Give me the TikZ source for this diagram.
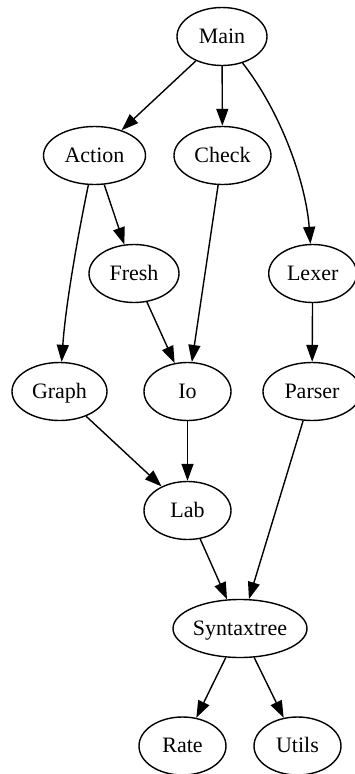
\documentclass[tikz,border=0pt]{standalone}
\usepackage{fontspec}
\setmainfont{Liberation Serif}
\usetikzlibrary{shapes.geometric,arrows.meta}
\begin{document}
\begin{tikzpicture}[x=1pt,y=-1pt,
  nd/.style={draw,ellipse,line width=1.4pt,inner sep=0pt,minimum height=58pt,text height=16pt,text depth=3pt,font=\fontsize{22}{26}\selectfont},
  ed/.style={line width=1.4pt,-{Triangle[length=17pt,width=12pt]}}]
\useasboundingbox (0,0) rectangle (355,774);
\node[nd,minimum width=90pt] (Main) at (222,36.5) {Main};
\node[nd,minimum width=102pt] (Action) at (94.5,155.5) {Action};
\node[nd,minimum width=97pt] (Check) at (222.5,155.5) {Check};
\node[nd,minimum width=90pt] (Fresh) at (134,273.5) {Fresh};
\node[nd,minimum width=88pt] (Lexer) at (312.7,273.5) {Lexer};
\node[nd,minimum width=95pt] (Graph) at (59.5,391.5) {Graph};
\node[nd,minimum width=87pt] (Io) at (187.5,391.5) {Io};
\node[nd,minimum width=98pt] (Parser) at (312,391.5) {Parser};
\node[nd,minimum width=87pt] (Lab) at (187.5,510.5) {Lab};
\node[nd,minimum width=134pt] (Syntaxtree) at (240,628.5) {Syntaxtree};
\node[nd,minimum width=87pt] (Rate) at (182.5,746) {Rate};
\node[nd,minimum width=87pt] (Utils) at (297.5,746) {Utils};
\draw[ed] (Main) -- (Action);
\draw[ed] (Main) -- (Check);
\draw[ed] (Main) .. controls (283,115) and (306,185) .. (Lexer);
\draw[ed] (Action) .. controls (80,225) and (66,300) .. (Graph);
\draw[ed] (Action) -- (Fresh);
\draw[ed] (Check) -- (Io);
\draw[ed] (Fresh) -- (Io);
\draw[ed] (Lexer) -- (Parser);
\draw[ed] (Graph) -- (Lab);
\draw[ed] (Io) -- (Lab);
\draw[ed] (Parser) -- (Syntaxtree);
\draw[ed] (Lab) -- (Syntaxtree);
\draw[ed] (Syntaxtree) -- (Rate);
\draw[ed] (Syntaxtree) -- (Utils);
\end{tikzpicture}
\end{document}
